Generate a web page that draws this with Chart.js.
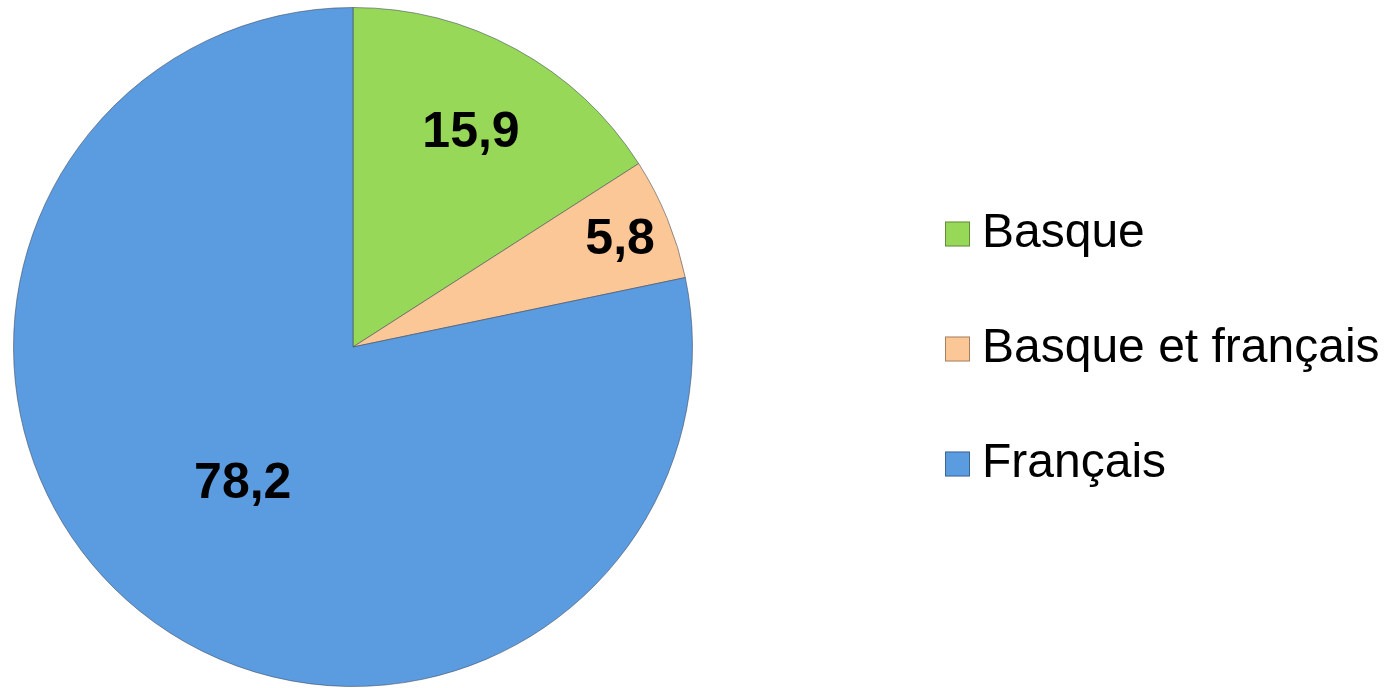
<!DOCTYPE html>
<html>
<head>
<meta charset="utf-8">
<script src="https://cdn.jsdelivr.net/npm/chart.js@4"></script>
<style>
  html, body { margin: 0; padding: 0; background: #ffffff; }
  canvas { display: block; }
</style>
</head>
<body>
<canvas id="pieChart" width="1396" height="688"></canvas>
<script>
// Chart data
const categories = ['Basque', 'Basque et français', 'Français'];
const shares = [15.9, 5.8, 78.2];
const sliceColors = ['#98d858', '#fbc796', '#5b9be0'];

// Where each value label sits, as a fraction of the radius
const labelRadius = [0.725, 0.85, 0.515];

// Draw the value labels and the legend on the canvas
const labelsAndLegend = {
    id: 'labelsAndLegend',
    afterDraw(chart) {
        const ctx = chart.ctx;
        const arcs = chart.getDatasetMeta(0).data;

        ctx.save();
        ctx.fillStyle = '#000000';
        ctx.textAlign = 'center';
        ctx.textBaseline = 'middle';
        ctx.font = 'bold 50px "Liberation Sans", Arial, sans-serif';
        arcs.forEach((arc, i) => {
            const p = arc.getProps(['x', 'y', 'startAngle', 'endAngle', 'outerRadius'], true);
            const mid = (p.startAngle + p.endAngle) / 2;
            const r = p.outerRadius * labelRadius[i];
            const text = shares[i].toFixed(1).replace('.', ',');
            ctx.fillText(text, p.x + Math.cos(mid) * r, p.y + Math.sin(mid) * r + 2);
        });

        // Legend on the right
        ctx.textAlign = 'left';
        ctx.font = '48px "Liberation Sans", Arial, sans-serif';
        categories.forEach((name, i) => {
            const y = 233 + i * 115;
            ctx.fillStyle = sliceColors[i];
            ctx.fillRect(945, y - 11.5, 25, 25);
            ctx.strokeStyle = 'rgba(0,0,0,0.35)';
            ctx.lineWidth = 1;
            ctx.strokeRect(945.5, y - 11, 24, 24);
            ctx.fillStyle = '#000000';
            ctx.fillText(name, 982, y + 1);
        });
        ctx.restore();
    }
};

const ctx = document.getElementById('pieChart').getContext('2d');
new Chart(ctx, {
    type: 'pie',
    data: {
        labels: categories,
        datasets: [{
            data: shares,
            backgroundColor: sliceColors,
            borderColor: 'rgba(60,70,90,0.55)',
            borderWidth: 1
        }]
    },
    options: {
        responsive: false,
        animation: false,
        layout: {
            padding: { left: 13, top: 7, right: 703, bottom: 1 }
        },
        plugins: {
            legend: { display: false },
            tooltip: { enabled: false }
        }
    },
    plugins: [labelsAndLegend]
});
</script>
</body>
</html>
